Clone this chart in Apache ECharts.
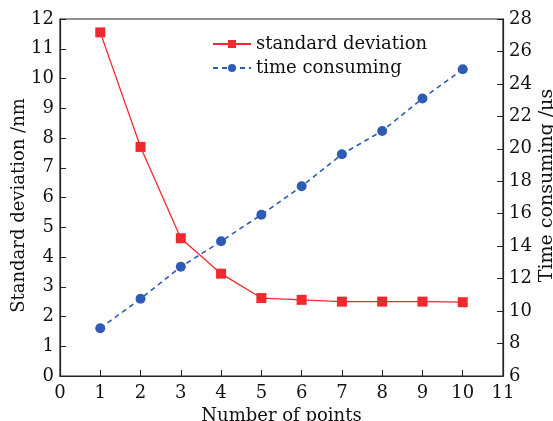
<!DOCTYPE html>
<html>
<head>
<meta charset="utf-8">
<script src="https://cdn.jsdelivr.net/npm/echarts@6/dist/echarts.min.js"></script>
<style>
  html, body { margin: 0; padding: 0; background: #fff; }
  #chart { width: 553px; height: 421px; }
</style>
</head>
<body>
<div id="chart"></div>
<script>
// number of points on the x axis
const points = [1, 2, 3, 4, 5, 6, 7, 8, 9, 10];
// standard deviation /nm (left axis)
const stdDev = [11.55, 7.7, 4.63, 3.44, 2.62, 2.56, 2.5, 2.5, 2.5, 2.48];
// time consuming /μs (right axis)
const timeCost = [8.94, 10.76, 12.73, 14.3, 15.94, 17.69, 19.66, 21.1, 23.1, 24.9];

const font = 'DejaVu Serif';
const red = '#EE2A2E';
const blue = '#2D5BB6';

const chart = echarts.init(document.getElementById('chart'));
const axisLine = { lineStyle: { color: '#222', width: 1.2 } };
const tickStyle = { inside: true, length: 6, lineStyle: { color: '#222' } };
const labelStyle = { color: '#111', fontFamily: font, fontSize: 18 };
const nameStyle = { color: '#111', fontFamily: font, fontSize: 18 };

chart.setOption({
  animation: false,
  grid: {
    left: 60, right: 50, top: 19, bottom: 45,
    outerBoundsMode: 'none', containLabel: false,
    show: true, borderColor: '#222', borderWidth: 1.2
  },
  legend: {
    left: 207, top: 30,
    orient: 'vertical',
    itemWidth: 38, itemHeight: 10, itemGap: 6,
    textStyle: { color: '#111', fontFamily: font, fontSize: 18 },
    data: ['standard deviation', 'time consuming']
  },
  xAxis: {
    type: 'value', min: 0, max: 11, interval: 1,
    name: 'Number of points', nameLocation: 'middle', nameGap: 31,
    nameMoveOverlap: false,
    nameTextStyle: nameStyle,
    axisLine: axisLine, axisTick: tickStyle,
    axisLabel: Object.assign({ margin: 8 }, labelStyle),
    splitLine: { show: false }
  },
  yAxis: [{
    type: 'value', min: 0, max: 12, interval: 1,
    name: 'Standard deviation /nm', nameLocation: 'middle', nameGap: 32,
    nameMoveOverlap: false,
    nameTextStyle: Object.assign({ padding: [0, 16, 0, 0] }, nameStyle),
    axisLine: axisLine, axisTick: tickStyle,
    axisLabel: Object.assign({ margin: 6 }, labelStyle),
    splitLine: { show: false }
  }, {
    type: 'value', min: 6, max: 28, interval: 2,
    name: 'Time consuming /μs', nameLocation: 'middle', nameGap: 35,
    nameMoveOverlap: false,
    nameTextStyle: Object.assign({}, nameStyle, { fontSize: 19, padding: [0, 0, 0, 24] }),
    axisLine: Object.assign({ show: true }, axisLine), axisTick: tickStyle,
    axisLabel: Object.assign({ margin: 6 }, labelStyle),
    splitLine: { show: false }
  }],
  series: [{
    name: 'standard deviation', type: 'line', yAxisIndex: 0,
    data: points.map((p, i) => [p, stdDev[i]]),
    symbol: 'rect', symbolSize: 10,
    itemStyle: { color: red },
    lineStyle: { color: red, width: 1.3 }
  }, {
    name: 'time consuming', type: 'line', yAxisIndex: 1,
    data: points.map((p, i) => [p, timeCost[i]]),
    symbol: 'circle', symbolSize: 10,
    itemStyle: { color: blue },
    lineStyle: { color: blue, width: 1.6, type: [5, 4] }
  }]
});
</script>
</body>
</html>
